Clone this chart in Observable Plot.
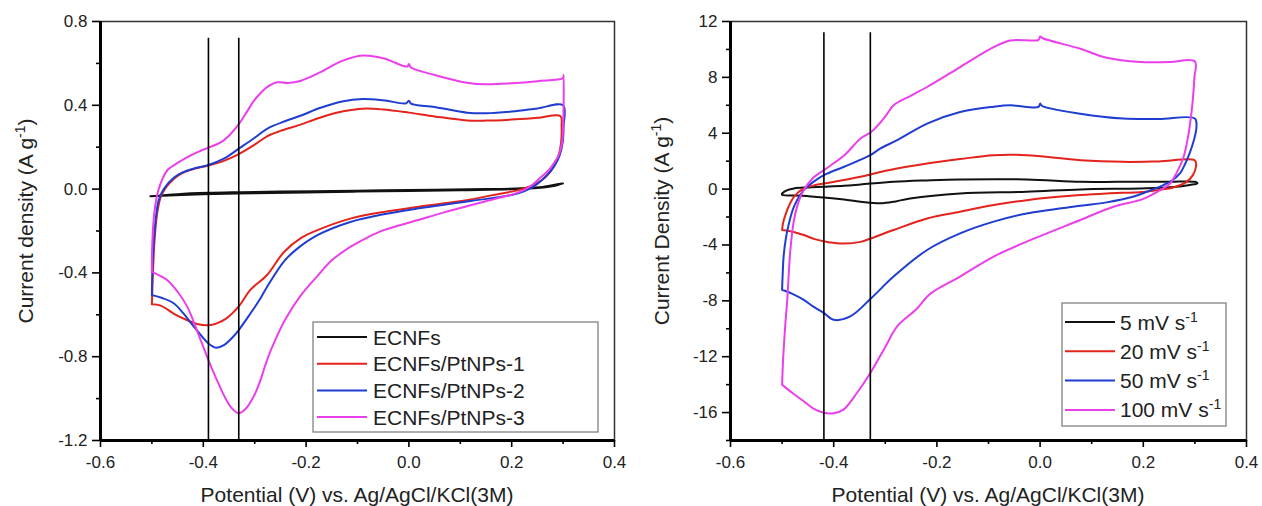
<!DOCTYPE html>
<html><head><meta charset="utf-8">
<script src="https://cdn.jsdelivr.net/npm/d3@7"></script>
<script src="https://cdn.jsdelivr.net/npm/@observablehq/plot@0.6"></script>
<style>
body{margin:0;background:#fff;}
#wrap{display:flex;width:1262px;height:506px;overflow:hidden;}
</style></head><body><div id="wrap"></div>
<script>
// ---------- shared ----------
const colors = ["#111111", "#e3231c", "#1f3dd0", "#ea3fea"];
const xTicks = [-0.6, -0.4, -0.2, 0, 0.2, 0.4];
const xMinor = [-0.5, -0.3, -0.1, 0.1, 0.3];
const xTitle = "Potential (V) vs. Ag/AgCl/KCl(3M)";

// ---------- left panel ----------
const leftNames = ["ECNFs", "ECNFs/PtNPs-1", "ECNFs/PtNPs-2", "ECNFs/PtNPs-3"];
const leftYTicks = [-1.2, -0.8, -0.4, 0, 0.4, 0.8];
const leftYMinor = [-1.0, -0.6, -0.2, 0.2, 0.6];
const leftVLines = [-0.39, -0.331];
const leftVTop = 0.72;
const leftYTitle = "Current density (A g";

const ecnfs = [[-0.503,-0.034],[-0.45,-0.024],[-0.39,-0.018],[-0.33,-0.015],[-0.25,-0.012],[-0.15,-0.009],[-0.05,-0.006],[0.05,-0.003],[0.15,0.0],[0.22,0.004],[0.26,0.01],[0.3,0.028],
[0.29,0.02],[0.25,0.005],[0.2,-0.001],[0.1,-0.005],[0.0,-0.009],[-0.1,-0.012],[-0.2,-0.016],[-0.3,-0.02],[-0.4,-0.025],[-0.503,-0.034]];

const ptnps1 = [[-0.5,-0.55],[-0.498,-0.4],[-0.495,-0.25],[-0.49,-0.12],[-0.483,-0.04],[-0.472,0.01],[-0.457,0.05],[-0.44,0.078],[-0.418,0.097],[-0.39,0.113],[-0.36,0.135],[-0.331,0.167],[-0.3,0.212],[-0.276,0.252],[-0.25,0.278],[-0.211,0.308],[-0.172,0.342],[-0.13,0.37],[-0.09,0.384],[-0.05,0.38],[0.0,0.365],[0.05,0.347],[0.113,0.328],[0.15,0.327],[0.2,0.332],[0.25,0.34],[0.295,0.348],
[0.297,0.3],[0.296,0.22],[0.29,0.15],[0.28,0.1],[0.265,0.055],[0.245,0.022],[0.22,0.0],[0.2,-0.012],[0.16,-0.03],[0.12,-0.05],[0.07,-0.068],[0.016,-0.085],[-0.049,-0.109],[-0.114,-0.141],[-0.178,-0.196],[-0.211,-0.235],[-0.243,-0.3],[-0.276,-0.41],[-0.308,-0.48],[-0.331,-0.56],[-0.355,-0.617],[-0.375,-0.642],[-0.39,-0.65],[-0.41,-0.645],[-0.431,-0.626],[-0.457,-0.595],[-0.483,-0.556],[-0.5,-0.55]];

const ptnps2 = [[-0.5,-0.506],[-0.499,-0.38],[-0.496,-0.24],[-0.492,-0.13],[-0.487,-0.055],[-0.477,0.0],[-0.457,0.055],[-0.44,0.08],[-0.418,0.098],[-0.39,0.115],[-0.36,0.145],[-0.331,0.193],[-0.3,0.245],[-0.276,0.288],[-0.24,0.325],[-0.211,0.35],[-0.172,0.388],[-0.13,0.418],[-0.09,0.43],[-0.05,0.424],[-0.005,0.41],[0.0,0.422],[0.004,0.408],[0.05,0.392],[0.113,0.365],[0.15,0.362],[0.2,0.37],[0.25,0.385],[0.3,0.4],
[0.301,0.3],[0.299,0.22],[0.293,0.16],[0.283,0.11],[0.27,0.07],[0.25,0.025],[0.225,-0.01],[0.2,-0.028],[0.12,-0.057],[0.016,-0.093],[-0.049,-0.12],[-0.114,-0.157],[-0.178,-0.22],[-0.22,-0.29],[-0.243,-0.345],[-0.276,-0.467],[-0.289,-0.522],[-0.31,-0.6],[-0.331,-0.673],[-0.342,-0.705],[-0.36,-0.745],[-0.375,-0.757],[-0.39,-0.737],[-0.418,-0.657],[-0.44,-0.59],[-0.457,-0.546],[-0.48,-0.52],[-0.5,-0.506]];

const ptnps3 = [[-0.5,-0.395],[-0.4995,-0.28],[-0.497,-0.16],[-0.493,-0.07],[-0.488,-0.01],[-0.48,0.045],[-0.47,0.09],[-0.45,0.125],[-0.431,0.153],[-0.41,0.178],[-0.39,0.198],[-0.367,0.222],[-0.35,0.255],[-0.331,0.31],[-0.315,0.37],[-0.302,0.42],[-0.288,0.46],[-0.276,0.487],[-0.256,0.51],[-0.235,0.506],[-0.21,0.517],[-0.172,0.558],[-0.13,0.612],[-0.09,0.638],[-0.05,0.625],[-0.003,0.585],[0.0,0.597],[0.004,0.58],[0.05,0.545],[0.113,0.508],[0.15,0.5],[0.2,0.505],[0.25,0.515],[0.3,0.53],
[0.301,0.545],[0.301,0.4],[0.3,0.3],[0.298,0.22],[0.291,0.16],[0.281,0.12],[0.27,0.085],[0.256,0.055],[0.237,0.015],[0.211,-0.018],[0.17,-0.045],[0.12,-0.077],[0.07,-0.11],[0.016,-0.149],[-0.049,-0.196],[-0.08,-0.23],[-0.114,-0.276],[-0.15,-0.34],[-0.178,-0.415],[-0.211,-0.51],[-0.24,-0.62],[-0.26,-0.72],[-0.276,-0.816],[-0.29,-0.92],[-0.302,-0.99],[-0.318,-1.05],[-0.331,-1.07],[-0.343,-1.05],[-0.355,-1.007],[-0.372,-0.92],[-0.39,-0.816],[-0.41,-0.69],[-0.431,-0.562],[-0.45,-0.49],[-0.47,-0.435],[-0.5,-0.395]];

// ---------- right panel ----------
const rightNames = ["5 mV s", "20 mV s", "50 mV s", "100 mV s"]; // each followed by superscript -1
const rightYTicks = [-16, -12, -8, -4, 0, 4, 8, 12];
const rightYMinor = [-18, -14, -10, -6, -2, 2, 6, 10];
const rightVLines = [-0.419, -0.329];
const rightVTop = 11.2;
const rightYTitle = "Current Density (A g";

const scan5 = [[-0.5,-0.31],[-0.493,-0.12],[-0.477,0.05],[-0.45,0.12],[-0.419,0.17],[-0.38,0.24],[-0.348,0.33],[-0.284,0.52],[-0.22,0.62],[-0.155,0.69],[-0.026,0.69],[0.078,0.52],[0.15,0.52],[0.25,0.53],[0.3,0.52],[0.305,0.42],
[0.29,0.3],[0.26,0.15],[0.194,0.05],[0.078,-0.02],[-0.026,-0.19],[-0.155,-0.31],[-0.252,-0.67],[-0.28,-0.88],[-0.31,-1.02],[-0.348,-0.9],[-0.38,-0.75],[-0.419,-0.6],[-0.46,-0.47],[-0.5,-0.4],[-0.5,-0.31]];

const scan20 = [[-0.5,-2.93],[-0.498,-2.4],[-0.494,-1.9],[-0.488,-1.3],[-0.477,-0.55],[-0.458,0.05],[-0.44,0.25],[-0.419,0.4],[-0.38,0.65],[-0.348,0.88],[-0.327,1.07],[-0.28,1.45],[-0.219,1.83],[-0.155,2.15],[-0.09,2.43],[-0.026,2.43],[0.078,2.07],[0.161,1.95],[0.23,1.98],[0.3,2.05],
[0.302,1.6],[0.296,1.0],[0.284,0.52],[0.258,0.12],[0.233,-0.05],[0.2,-0.2],[0.129,-0.31],[0.078,-0.43],[-0.026,-0.79],[-0.09,-1.14],[-0.155,-1.62],[-0.219,-2.1],[-0.284,-2.93],[-0.327,-3.52],[-0.348,-3.78],[-0.38,-3.9],[-0.41,-3.8],[-0.435,-3.6],[-0.458,-3.29],[-0.48,-3.05],[-0.5,-2.93]];

const scan50 = [[-0.5,-7.21],[-0.499,-6.2],[-0.497,-4.8],[-0.493,-3.6],[-0.487,-2.5],[-0.477,-1.26],[-0.458,-0.07],[-0.44,0.5],[-0.419,1.0],[-0.38,1.6],[-0.329,2.43],[-0.31,2.9],[-0.277,3.5],[-0.219,4.69],[-0.155,5.52],[-0.09,5.9],[-0.058,6.0],[-0.003,5.88],[0.0,6.12],[0.004,5.95],[0.078,5.4],[0.161,5.05],[0.23,5.02],[0.3,5.05],
[0.303,4.45],[0.298,3.5],[0.29,2.6],[0.281,1.8],[0.271,1.12],[0.255,0.6],[0.239,0.29],[0.207,-0.19],[0.18,-0.55],[0.129,-0.95],[0.078,-1.2],[-0.026,-1.74],[-0.09,-2.33],[-0.155,-3.17],[-0.219,-4.36],[-0.284,-6.26],[-0.327,-7.8],[-0.368,-9.12],[-0.4,-9.36],[-0.419,-8.88],[-0.44,-8.4],[-0.458,-7.93],[-0.48,-7.5],[-0.5,-7.21]];

const scan100 = [[-0.5,-14.0],[-0.4985,-12.5],[-0.497,-11.5],[-0.494,-9.8],[-0.49,-7.93],[-0.487,-6.0],[-0.484,-4.36],[-0.477,-2.21],[-0.468,-0.9],[-0.458,-0.07],[-0.44,0.8],[-0.419,1.36],[-0.38,2.4],[-0.348,3.62],[-0.327,4.1],[-0.3,5.2],[-0.284,6.0],[-0.25,6.7],[-0.219,7.31],[-0.155,8.74],[-0.09,10.16],[-0.058,10.64],[-0.003,10.69],[0.0,10.93],[0.005,10.8],[0.078,10.05],[0.129,9.4],[0.194,9.1],[0.25,9.1],[0.3,9.14],
[0.299,8.0],[0.296,6.4],[0.29,4.5],[0.284,3.2],[0.278,2.3],[0.265,1.2],[0.252,0.4],[0.233,-0.07],[0.2,-0.7],[0.142,-1.26],[0.078,-2.21],[-0.026,-3.76],[-0.09,-4.83],[-0.155,-6.26],[-0.213,-7.5],[-0.24,-8.6],[-0.277,-9.83],[-0.3,-11.3],[-0.329,-13.17],[-0.355,-14.6],[-0.381,-15.79],[-0.4,-16.05],[-0.419,-16.02],[-0.44,-15.7],[-0.458,-15.19],[-0.48,-14.6],[-0.5,-14.0]];

// ---------- build ----------
const FONT = "Liberation Sans, Arial, Helvetica, sans-serif";

function rowsOf(names, series) {
  const rows = [];
  series.forEach((pts, k) => pts.forEach(([v, i]) => rows.push({v, i, s: names[k]})));
  return rows;
}

function panel(cfg) {
  const rows = rowsOf(cfg.names, cfg.series);
  const y0 = cfg.yDomain[0];
  const svg = Plot.plot({
    width: 631, height: 506,
    marginLeft: cfg.ml, marginRight: cfg.mr, marginTop: 21, marginBottom: 66,
    style: {fontFamily: FONT, fontSize: "17px", color: "#222", background: "white", overflow: "visible"},
    x: {domain: [-0.6, 0.4]},
    y: {domain: cfg.yDomain},
    color: {domain: cfg.names, range: colors},
    marks: [
      Plot.line(rows, {x: "v", y: "i", z: "s", stroke: "s", strokeWidth: 2, curve: "catmull-rom"}),
      Plot.ruleX(cfg.vlines, {x: d => d, y1: y0, y2: cfg.vtop, stroke: "#000", strokeWidth: 1.6}),
      Plot.frame({stroke: "#333", strokeWidth: 1.5}),
      Plot.ruleX([-0.6], {stroke: "#000", strokeWidth: 3}),
      Plot.ruleY([y0], {stroke: "#000", strokeWidth: 3}),
      Plot.axisX({ticks: xTicks, tickSize: 7, tickPadding: 8, tickFormat: d => d.toFixed(1), label: null, stroke: "#000", strokeWidth: 1.6}),
      Plot.axisX({ticks: xMinor, tickSize: 4, tickFormat: () => "", label: null, stroke: "#000", strokeWidth: 1.6}),
      Plot.axisY({ticks: cfg.yTicks, tickSize: 8, tickPadding: 5, tickFormat: cfg.yFormat, label: null, stroke: "#000", strokeWidth: 1.6}),
      Plot.axisY({ticks: cfg.yMinor, tickSize: 4, tickFormat: () => "", label: null, stroke: "#000", strokeWidth: 1.6})
    ]
  });
  const s = d3.select(svg);
  // axis titles
  const cx = (cfg.ml + 631 - cfg.mr) / 2;
  s.append("text").attr("x", cx).attr("y", 502).attr("text-anchor", "middle")
    .attr("font-family", FONT).attr("font-size", 21).attr("fill", "#222").text(xTitle);
  const yt = s.append("text").attr("transform", `translate(${cfg.ytx},221) rotate(-90)`)
    .attr("text-anchor", "middle").attr("font-family", FONT).attr("font-size", 21).attr("fill", "#222");
  yt.append("tspan").text(cfg.yTitle);
  yt.append("tspan").attr("dy", -8).attr("font-size", 14).text("-1");
  yt.append("tspan").attr("dy", 8).text(")");
  // legend
  const L = cfg.legend;
  const g = s.append("g").attr("text-anchor", "start");
  g.append("rect").attr("x", L.x).attr("y", L.y).attr("width", L.w).attr("height", L.h)
    .attr("fill", "white").attr("stroke", "#777").attr("stroke-width", 1.2);
  cfg.names.forEach((n, k) => {
    const cy = L.y0 + k * L.dy;
    g.append("line").attr("x1", L.lx1).attr("x2", L.lx2).attr("y1", cy).attr("y2", cy)
      .attr("stroke", colors[k]).attr("stroke-width", 2);
    const t = g.append("text").attr("x", L.tx).attr("y", cy).attr("dy", "0.36em")
      .attr("text-anchor", "start")
      .attr("font-family", FONT).attr("font-size", 21).attr("fill", "#222");
    t.append("tspan").text(n);
    if (cfg.sup) {
      t.append("tspan").attr("dy", -8).attr("font-size", 14).text("-1");
    }
  });
  return svg;
}

const wrap = document.getElementById("wrap");
wrap.append(panel({
  names: leftNames, series: [ecnfs, ptnps1, ptnps2, ptnps3],
  yDomain: [-1.2, 0.8], yTicks: leftYTicks, yMinor: leftYMinor, yFormat: d => d.toFixed(1),
  vlines: leftVLines, vtop: leftVTop, ml: 100, mr: 17, ytx: 33, yTitle: leftYTitle, sup: false,
  legend: {x: 313, y: 322, w: 285, h: 110, y0: 337, dy: 26.7, lx1: 317, lx2: 367, tx: 373}
}));
wrap.append(panel({
  names: rightNames, series: [scan5, scan20, scan50, scan100],
  yDomain: [-18, 12], yTicks: rightYTicks, yMinor: rightYMinor, yFormat: d => String(d),
  vlines: rightVLines, vtop: rightVTop, ml: 99, mr: 16, ytx: 38, yTitle: rightYTitle, sup: true,
  legend: {x: 431, y: 303, w: 164, h: 123, y0: 322, dy: 29.3, lx1: 434, lx2: 484, tx: 489}
}));
</script></body></html>
